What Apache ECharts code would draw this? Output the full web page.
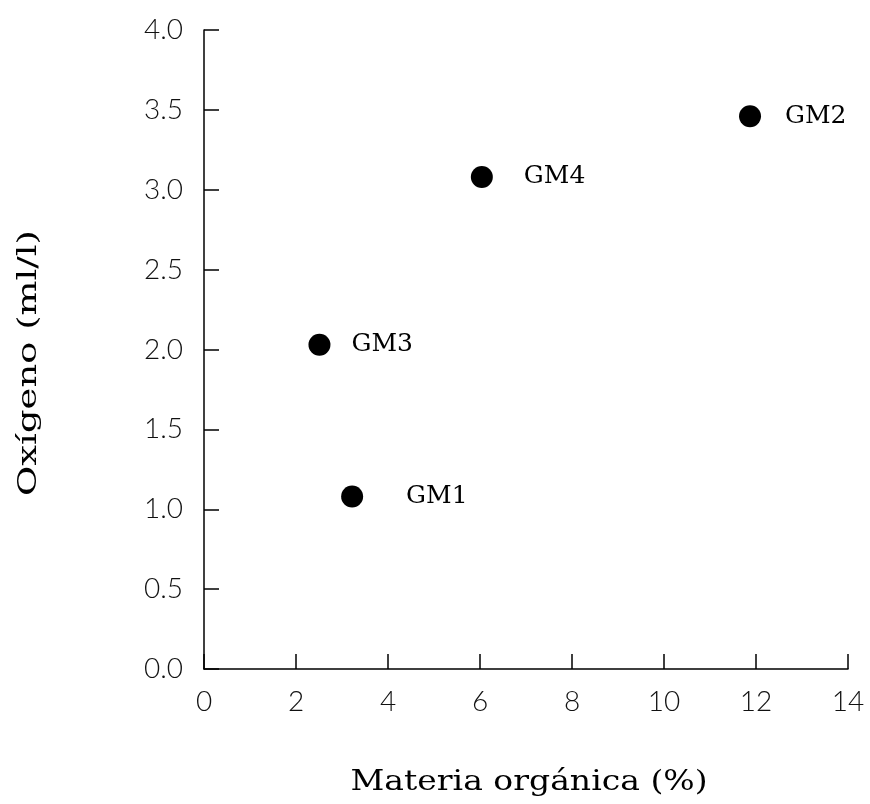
<!DOCTYPE html>
<html>
<head>
<meta charset="utf-8">
<style>
  html, body { margin: 0; padding: 0; background: #fff; }
  #chart { width: 870px; height: 804px; }
</style>
<script src="https://cdn.jsdelivr.net/npm/echarts@6/dist/echarts.min.js"></script>
</head>
<body>
<div id="chart"></div>
<script>
// Sampling stations
const stations = ['GM1', 'GM2', 'GM3', 'GM4'];
// Organic matter (%)
const organicMatter = [3.22, 11.87, 2.51, 6.04];
// Dissolved oxygen (ml/l)
const oxygen = [1.08, 3.46, 2.03, 3.08];

// Axis ranges and tick steps
const xMin = 0, xMax = 14, xStep = 2;
const yMin = 0, yMax = 4, yStep = 0.5;

// Axis titles
const xTitle = 'Materia orgánica (%)';
const yTitle = 'Oxígeno (ml/l)';

// Distance of each station label from its marker
const labelGap = { GM1: 43, GM2: 24, GM3: 21, GM4: 31 };

const points = stations.map((name, i) => ({
  name: name,
  value: [organicMatter[i], oxygen[i]],
  label: { distance: labelGap[name] }
}));

const tickFont = {
  fontFamily: 'Lato, "Liberation Sans", sans-serif',
  fontWeight: 300,
  fontSize: 28,
  color: '#111'
};

const titleFont = '"DejaVu Serif", serif';

const chart = echarts.init(document.getElementById('chart'), null, { renderer: 'canvas' });
chart.setOption({
  animation: false,
  backgroundColor: '#fff',
  grid: { left: 204, right: 22, top: 30, bottom: 135 },
  xAxis: {
    type: 'value',
    min: xMin, max: xMax, interval: xStep,
    axisLine: { show: true, onZero: false, lineStyle: { color: '#000', width: 1.5 } },
    axisTick: { show: true, inside: true, length: 15, lineStyle: { color: '#000', width: 1.5 } },
    axisLabel: Object.assign({ margin: 19 }, tickFont),
    splitLine: { show: false }
  },
  yAxis: {
    type: 'value',
    min: yMin, max: yMax, interval: yStep,
    axisLine: { show: true, onZero: false, lineStyle: { color: '#000', width: 1.5 } },
    axisTick: { show: true, inside: true, length: 15, lineStyle: { color: '#000', width: 1.5 } },
    axisLabel: Object.assign({ margin: 21, formatter: v => v.toFixed(1) }, tickFont),
    splitLine: { show: false }
  },
  // Widely tracked axis titles, drawn as stretched text
  graphic: [
    {
      type: 'text',
      x: 529, y: 783,
      scaleX: 1.18,
      style: {
        text: xTitle,
        font: '28px ' + titleFont,
        fill: '#000',
        align: 'center',
        verticalAlign: 'middle'
      }
    },
    {
      type: 'text',
      x: 29, y: 363,
      rotation: Math.PI / 2,
      scaleX: 1.42,
      style: {
        text: yTitle,
        font: '26px ' + titleFont,
        fill: '#000',
        align: 'center',
        verticalAlign: 'middle'
      }
    }
  ],
  series: [{
    type: 'scatter',
    symbol: 'circle',
    symbolSize: 22,
    itemStyle: { color: '#000', opacity: 1 },
    label: {
      show: true,
      position: 'right',
      formatter: p => p.name,
      fontFamily: titleFont,
      fontSize: 25,
      color: '#000'
    },
    data: points
  }]
});
</script>
</body>
</html>
